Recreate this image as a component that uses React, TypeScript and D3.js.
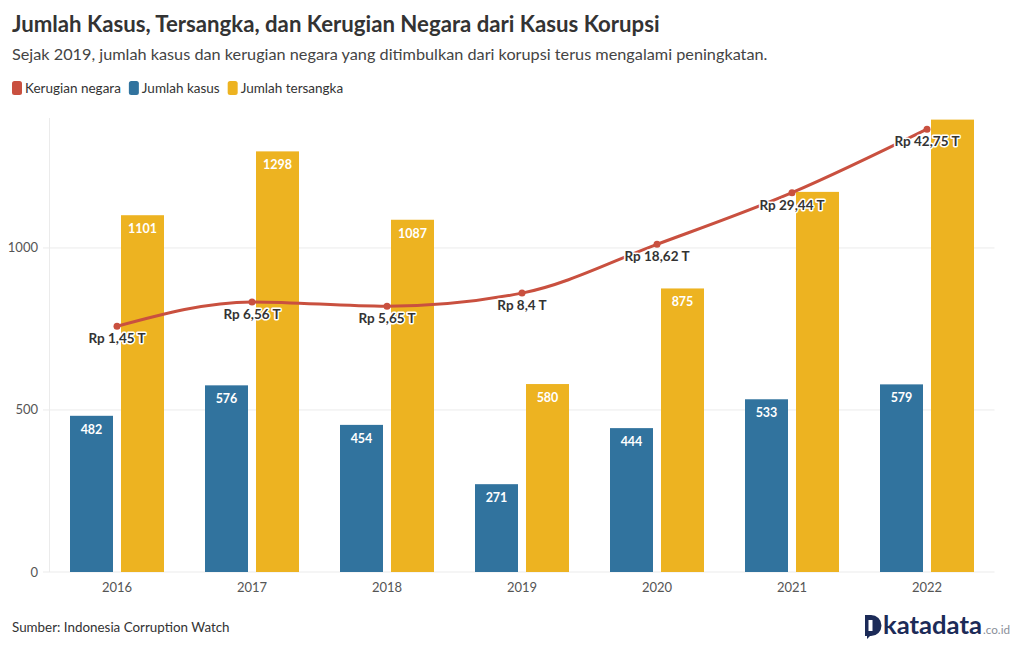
import React from "react";
import * as d3 from "d3";

const years = ["2016", "2017", "2018", "2019", "2020", "2021", "2022"];
const jumlahKasus = [482, 576, 454, 271, 444, 533, 579];
const jumlahTersangka = [1101, 1298, 1087, 580, 875, 1173, 1396];
const tersangkaLabelShown = [true, true, true, true, true, false, false];
const kerugianNegara = [1.45, 6.56, 5.65, 8.4, 18.62, 29.44, 42.75];
const kerugianLabels = ["Rp 1,45 T", "Rp 6,56 T", "Rp 5,65 T", "Rp 8,4 T", "Rp 18,62 T", "Rp 29,44 T", "Rp 42,75 T"];
const yTicks = [0, 500, 1000];
const legendItems = [
  { label: "Kerugian negara", color: "#c9503f" },
  { label: "Jumlah kasus", color: "#31739e" },
  { label: "Jumlah tersangka", color: "#edb321" },
];

const W = 1020;
const H = 650;
const FONT = "Lato, 'Noto Sans', sans-serif";
const margin = { left: 49.5, right: 994.5, top: 118, bottom: 572 };

let ctx: CanvasRenderingContext2D | null = null;
function measure(text: string, font: string) {
  if (!ctx && typeof document !== "undefined") ctx = document.createElement("canvas").getContext("2d");
  if (!ctx) return text.length * 6.5;
  ctx.font = font;
  return ctx.measureText(text).width;
}

export default function App() {
  const x = d3.scaleBand<string>().domain(years).range([margin.left, margin.right]).padding(0);
  const y = d3.scaleLinear().domain([0, 1401]).range([margin.bottom, margin.top]);
  const y2 = d3.scaleLinear().domain([-50.05, 45.1]).range([margin.bottom, margin.top]);
  const cx = (yr: string) => (x(yr) as number) + x.bandwidth() / 2;

  const line = d3
    .line<number>()
    .x((_, i) => cx(years[i]))
    .y((d) => y2(d))
    .curve(d3.curveMonotoneX);

  const barW = 43;
  const gap = 4;

  const legendFont = 13.5;
  let lx = 12;
  const legend = legendItems.map((it) => {
    const g = { ...it, x: lx };
    lx += 13 + measure(it.label, `${legendFont}px Lato`) + 8;
    return g;
  });

  return (
    <svg width={W} height={H} style={{ position: "absolute", left: 0, top: 0, background: "#fff" }} fontFamily={FONT}>
      <text x={12} y={32} fontSize={22.2} fontWeight={700} fill="#333">
        Jumlah Kasus, Tersangka, dan Kerugian Negara dari Kasus Korupsi
      </text>
      <text x={12} y={60} fontSize={16.25} fill="#444">
        Sejak 2019, jumlah kasus dan kerugian negara yang ditimbulkan dari korupsi terus mengalami peningkatan.
      </text>
      {legend.map((it) => (
        <g key={it.label}>
          <rect x={it.x} y={81} width={10} height={14} rx={2.5} fill={it.color} />
          <text x={it.x + 13} y={93} fontSize={legendFont} fill="#333">
            {it.label}
          </text>
        </g>
      ))}

      {/* grid */}
      <line x1={margin.left} x2={margin.left} y1={margin.top} y2={margin.bottom} stroke="#ebebeb" />
      {yTicks.map((t) => (
        <g key={t}>
          <line x1={43} x2={margin.right} y1={y(t)} y2={y(t)} stroke="#ebebeb" />
          <text x={38} y={y(t) + 4.5} fontSize={13} fill="#555" textAnchor="end">
            {t}
          </text>
        </g>
      ))}

      {/* bars */}
      {years.map((yr, i) => {
        const c = cx(yr);
        return (
          <g key={yr}>
            <rect x={c - gap - barW} y={y(jumlahKasus[i])} width={barW} height={y(0) - y(jumlahKasus[i])} fill="#31739e" />
            <rect x={c + gap} y={y(jumlahTersangka[i])} width={barW} height={y(0) - y(jumlahTersangka[i])} fill="#edb321" />
            <text x={c - gap - barW / 2} y={y(jumlahKasus[i]) + 18} fontSize={12.5} fontWeight={700} fill="#fff" textAnchor="middle">
              {jumlahKasus[i]}
            </text>
            {tersangkaLabelShown[i] && (
              <text x={c + gap + barW / 2} y={y(jumlahTersangka[i]) + 18} fontSize={12.5} fontWeight={700} fill="#fff" textAnchor="middle">
                {jumlahTersangka[i]}
              </text>
            )}
            <text x={c} y={592} fontSize={13} fill="#555" textAnchor="middle">
              {yr}
            </text>
          </g>
        );
      })}

      {/* line */}
      <path d={line(kerugianNegara) || ""} fill="none" stroke="#c9503f" strokeWidth={3} />
      {kerugianNegara.map((v, i) => (
        <circle key={i} cx={cx(years[i])} cy={y2(v)} r={3.5} fill="#c9503f" />
      ))}
      {kerugianNegara.map((v, i) => (
        <text
          key={"l" + i}
          x={cx(years[i])}
          y={y2(v) + 17}
          fontSize={13.5}
          fontWeight={700}
          fill="#333"
          textAnchor="middle"
          stroke="#fff"
          strokeWidth={3}
          paintOrder="stroke"
          strokeLinejoin="round"
        >
          {kerugianLabels[i]}
        </text>
      ))}

      <text x={12} y={632} fontSize={13.4} fill="#333">
        Sumber: Indonesia Corruption Watch
      </text>

      {/* logo */}
      <g>
        <path d="M865 615 h6 a10.5 10.5 0 0 1 0 21 h-1 l-3 3 v-3 h-2 z" fill="#1c2b58" />
        <rect x={868.5} y={620} width={4} height={11} fill="#fff" />
        <text x={883} y={634} fontSize={25} fontWeight={700} fill="#1c2b58" textLength={99} lengthAdjust="spacingAndGlyphs">
          katadata
        </text>
        <text x={983} y={634} fontSize={12} fill="#8a8f99" textLength={27} lengthAdjust="spacingAndGlyphs">
          .co.id
        </text>
      </g>
    </svg>
  );
}
